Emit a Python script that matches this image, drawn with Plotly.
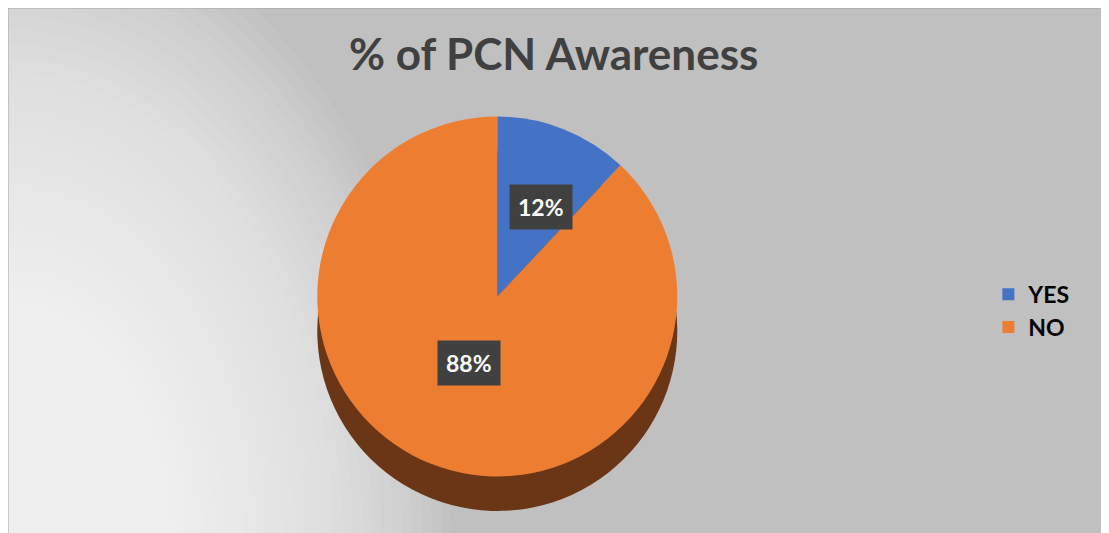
import plotly.graph_objects as go

labels = ["YES", "NO"]
values = [12, 88]
top_colors = ["#4472C4", "#ED7D31"]
side_colors = ["#2B4A82", "#6A3616"]

total = sum(values)
pct_text = [f"{round(v / total * 100)}%" for v in values]

fig = go.Figure()

# darker copy underneath, shifted down, gives the 3D "side" of the pie
fig.add_trace(go.Pie(
    labels=labels, values=values, sort=False, direction="clockwise", rotation=0,
    marker=dict(colors=side_colors, line=dict(width=0)),
    textinfo="none", hoverinfo="skip", showlegend=False,
    domain=dict(x=[0.2789, 0.6035], y=[0.0563, 0.7317]),
))
fig.add_trace(go.Pie(
    labels=labels, values=values, sort=False, direction="clockwise", rotation=0,
    marker=dict(colors=top_colors, line=dict(width=0)),
    textinfo="none", showlegend=True,
    domain=dict(x=[0.2789, 0.6035], y=[0.1088, 0.8086]),
))

# data labels in dark boxes
label_pos = [(0.4806, 0.6266), (0.4157, 0.334)]
for txt, (lx, ly) in zip(pct_text, label_pos):
    fig.add_annotation(
        x=lx, y=ly, xref="paper", yref="paper", text=txt, showarrow=False,
        font=dict(family="Lato", size=23, color="white", weight="bold"),
        bgcolor="#404040", borderpad=8,
    )

# soft light gradient from the bottom-left corner
shapes = []
n = 45
for i in range(n):
    r = (n - i) / n
    shapes.append(dict(
        type="circle", xref="paper", yref="paper", layer="below",
        x0=-r * 0.4, x1=r * 0.4, y0=-r * 1.2, y1=r * 1.2,
        fillcolor="rgba(255,255,255,0.06)", line=dict(width=0),
    ))
shapes.append(dict(type="rect", xref="paper", yref="paper", x0=0, x1=1, y0=0, y1=1,
                   line=dict(color="#a6a6a6", width=1)))

fig.update_layout(
    width=1109, height=533,
    margin=dict(l=0, r=0, t=0, b=0),
    paper_bgcolor="#c0c0c0",
    title=dict(text="% of PCN Awareness", x=0.492, y=0.912, xanchor="center", yanchor="middle",
               font=dict(family="Lato", size=44, color="#404040", weight="bold")),
    legend=dict(x=0.884, y=0.432, xanchor="left", yanchor="middle", bgcolor="rgba(0,0,0,0)",
                font=dict(family="Lato", size=23, color="black", weight="bold"), itemwidth=30),
    shapes=shapes,
)

fig.write_html("out.html")
